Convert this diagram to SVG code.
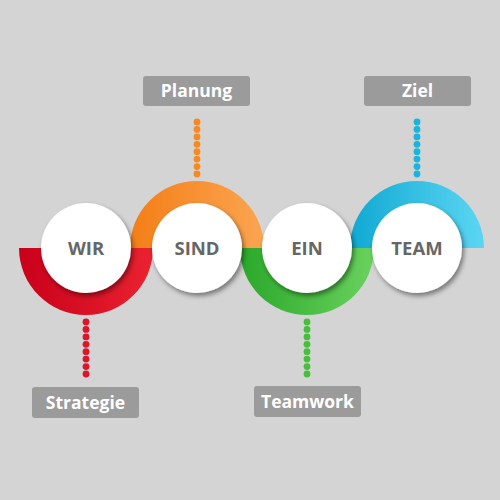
<svg xmlns="http://www.w3.org/2000/svg" width="500" height="500" viewBox="0 0 500 500">
  <defs>
    <linearGradient id="gRed" x1="0" y1="0" x2="1" y2="0">
      <stop offset="0" stop-color="#c9001a"/>
      <stop offset="1" stop-color="#ea2230"/>
    </linearGradient>
    <linearGradient id="gOrange" x1="0" y1="0" x2="1" y2="0">
      <stop offset="0" stop-color="#f47e16"/>
      <stop offset="1" stop-color="#fba552"/>
    </linearGradient>
    <linearGradient id="gGreen" x1="0" y1="0" x2="1" y2="0">
      <stop offset="0" stop-color="#2aa82a"/>
      <stop offset="1" stop-color="#6ad25e"/>
    </linearGradient>
    <linearGradient id="gBlue" x1="0" y1="0" x2="1" y2="0">
      <stop offset="0" stop-color="#10a9d3"/>
      <stop offset="1" stop-color="#5cd6f2"/>
    </linearGradient>
    <filter id="shadow" x="-30%" y="-30%" width="160%" height="160%">
      <feDropShadow dx="2" dy="3" stdDeviation="2.5" flood-color="#000" flood-opacity="0.45"/>
    </filter>
  </defs>
  <style>
    .circle { fill: #ffffff; filter: url(#shadow); }
    .ctext { font-family: "Open Sans", "Liberation Sans", sans-serif; font-weight: bold; font-size: 18.5px; fill: #666666; text-anchor: middle; }
    .box { fill: #9b9b9b; }
    .ltext { font-family: "Open Sans", "Liberation Sans", sans-serif; font-weight: bold; font-size: 17.5px; fill: #ffffff; text-anchor: middle; }
  </style>
  <rect width="500" height="500" fill="#d4d4d4"/>

  <g id="connectors">
    <g fill="#f7891f">
      <circle cx="197" cy="122" r="3.4"/><circle cx="197" cy="129.4" r="3.4"/><circle cx="197" cy="136.9" r="3.4"/><circle cx="197" cy="144.3" r="3.4"/><circle cx="197" cy="151.7" r="3.4"/><circle cx="197" cy="159.1" r="3.4"/><circle cx="197" cy="166.6" r="3.4"/><circle cx="197" cy="174" r="3.4"/>
    </g>
    <g fill="#1ab4dc">
      <circle cx="417" cy="122" r="3.4"/><circle cx="417" cy="129.4" r="3.4"/><circle cx="417" cy="136.9" r="3.4"/><circle cx="417" cy="144.3" r="3.4"/><circle cx="417" cy="151.7" r="3.4"/><circle cx="417" cy="159.1" r="3.4"/><circle cx="417" cy="166.6" r="3.4"/><circle cx="417" cy="174" r="3.4"/>
    </g>
    <g fill="#de1428">
      <circle cx="86" cy="322" r="3.4"/><circle cx="86" cy="329.4" r="3.4"/><circle cx="86" cy="336.9" r="3.4"/><circle cx="86" cy="344.3" r="3.4"/><circle cx="86" cy="351.7" r="3.4"/><circle cx="86" cy="359.1" r="3.4"/><circle cx="86" cy="366.6" r="3.4"/><circle cx="86" cy="374" r="3.4"/>
    </g>
    <g fill="#44c03a">
      <circle cx="307" cy="322" r="3.4"/><circle cx="307" cy="329.4" r="3.4"/><circle cx="307" cy="336.9" r="3.4"/><circle cx="307" cy="344.3" r="3.4"/><circle cx="307" cy="351.7" r="3.4"/><circle cx="307" cy="359.1" r="3.4"/><circle cx="307" cy="366.6" r="3.4"/><circle cx="307" cy="374" r="3.4"/>
    </g>
  </g>

  <g id="arcs">
    <path d="M19 248 A67 67 0 0 0 153 248 L130 248 A44 44 0 0 1 42 248 Z" fill="url(#gRed)"/>
    <path d="M130 248 A67 67 0 0 1 264 248 L241 248 A44 44 0 0 0 153 248 Z" fill="url(#gOrange)"/>
    <path d="M240 248 A67 67 0 0 0 374 248 L351 248 A44 44 0 0 1 263 248 Z" fill="url(#gGreen)"/>
    <path d="M350 248 A67 67 0 0 1 484 248 L461 248 A44 44 0 0 0 373 248 Z" fill="url(#gBlue)"/>
  </g>

  <g id="node-wir">
    <circle class="circle" cx="86" cy="248" r="45"/>
    <text class="ctext" x="86" y="254.5">WIR</text>
  </g>
  <g id="node-sind">
    <circle class="circle" cx="197" cy="248" r="45"/>
    <text class="ctext" x="197" y="254.5">SIND</text>
  </g>
  <g id="node-ein">
    <circle class="circle" cx="307" cy="248" r="45"/>
    <text class="ctext" x="307" y="254.5">EIN</text>
  </g>
  <g id="node-team">
    <circle class="circle" cx="417" cy="248" r="45"/>
    <text class="ctext" x="417" y="254.5">TEAM</text>
  </g>

  <g id="label-planung">
    <rect class="box" x="143" y="76" width="107" height="30" rx="3"/>
    <text class="ltext" x="196.5" y="97">Planung</text>
  </g>
  <g id="label-ziel">
    <rect class="box" x="364" y="76" width="107" height="30" rx="3"/>
    <text class="ltext" x="417.5" y="97">Ziel</text>
  </g>
  <g id="label-strategie">
    <rect class="box" x="32" y="387" width="107" height="31" rx="3"/>
    <text class="ltext" x="85.5" y="408.5">Strategie</text>
  </g>
  <g id="label-teamwork">
    <rect class="box" x="254" y="386" width="107" height="31" rx="3"/>
    <text class="ltext" x="307.5" y="407.5">Teamwork</text>
  </g>
</svg>
